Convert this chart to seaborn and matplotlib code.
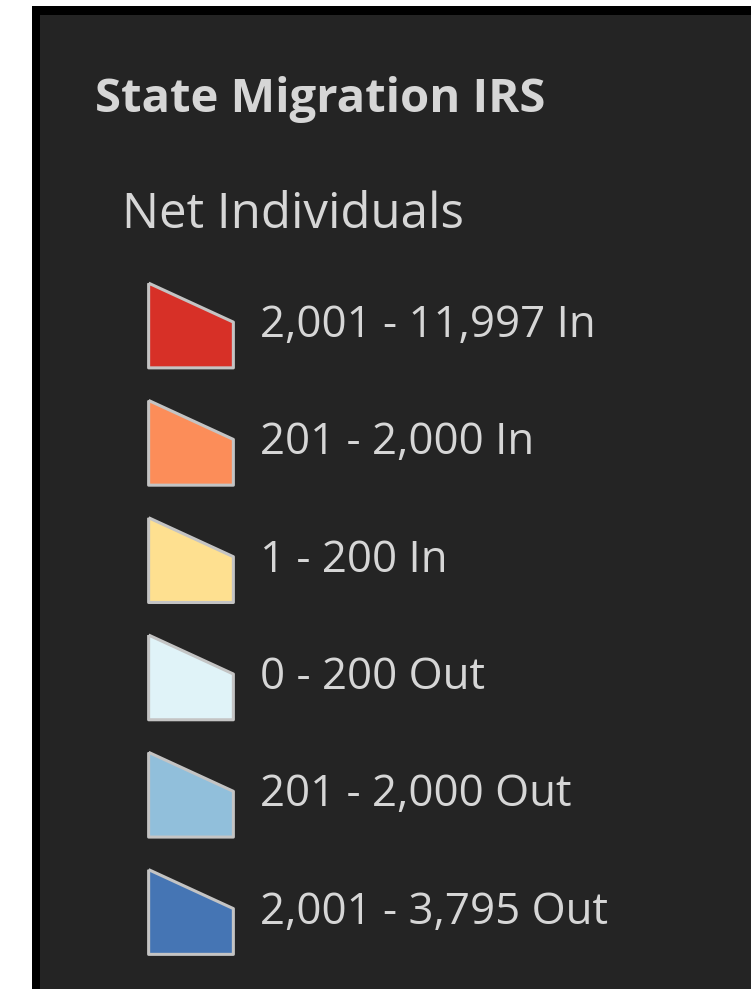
import numpy as np
import pandas as pd
import seaborn as sns
from matplotlib import pyplot as plt
from matplotlib.patches import Rectangle

# legend content
title = "State Migration IRS"
subtitle = "Net Individuals"
labels = ["2,001 - 11,997 In", "201 - 2,000 In", "1 - 200 In",
          "0 - 200 Out", "201 - 2,000 Out", "2,001 - 3,795 Out"]
colors = ["#d73027", "#fc8d59", "#fee090", "#e0f3f8", "#91bfdb", "#4575b4"]

W, H = 751, 989
fig = plt.figure(figsize=(W / 100, H / 100), dpi=100)
fig.patch.set_facecolor("white")
ax = fig.add_axes([0, 0, 1, 1])
ax.set_xlim(0, W)
ax.set_ylim(H, 0)
ax.axis("off")

# panel: black frame + dark fill
ax.add_patch(Rectangle((32, 6), W - 32, H - 6, facecolor="black", edgecolor="none", zorder=0))
ax.add_patch(Rectangle((40, 15), W - 40, H - 15, facecolor="#242424", edgecolor="none", zorder=0))

txt = "#d6d6d6"
font = "Open Sans"
ax.text(95, 112, title, color=txt, fontsize=34, fontweight="bold",
        family=font, va="baseline", ha="left")
ax.text(122, 228, subtitle, color=txt, fontsize=35.5, family=font,
        va="baseline", ha="left")

# rows
y0, dy = 325.5, 117.3
df = pd.DataFrame({"label": labels,
                   "x": 191.0,
                   "y": y0 + dy * np.arange(len(labels))})

# trapezoid legend symbol (top right corner lower than top left)
verts = [(-1, 1), (1, 0.08), (1, -1), (-1, -1), (-1, 1)]
sns.scatterplot(data=df, x="x", y="y", hue="label", palette=colors,
                hue_order=labels, marker=verts, s=61 ** 2,
                edgecolor="#c4c4c4", linewidth=2.2, legend=False, ax=ax, zorder=3)

for lab, yy in zip(df["label"], df["y"]):
    ax.text(260, yy + 11.5, lab, color=txt, fontsize=31.5, family=font,
            va="baseline", ha="left")

fig.savefig("out.png", dpi=100)
